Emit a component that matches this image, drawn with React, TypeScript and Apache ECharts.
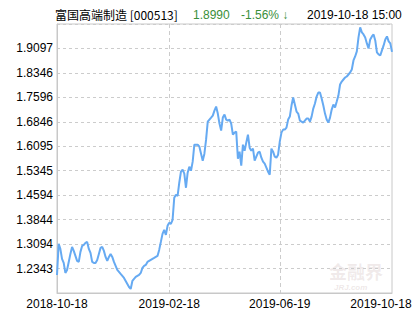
import React, { useEffect, useRef } from "react";
import * as echarts from "echarts";

const values: number[] = [
  1.2147, 1.3100, 1.2946, 1.2639, 1.2516, 1.2208, 1.2300, 1.2546, 1.2792, 1.3008,
  1.2885, 1.2731, 1.2577, 1.2546, 1.2854, 1.3038, 1.3069, 1.3131, 1.3161, 1.2946,
  1.2823, 1.2546, 1.2516, 1.2516, 1.2608, 1.2792, 1.2977, 1.3008, 1.2885, 1.2700,
  1.2577, 1.2700, 1.2792, 1.2700, 1.2546, 1.2423, 1.2300, 1.2239, 1.2177, 1.2116,
  1.2054, 1.1962, 1.1870, 1.1777, 1.1716, 1.1962, 1.2024, 1.2085, 1.2116, 1.2147,
  1.2208, 1.2362, 1.2423, 1.2454, 1.2546, 1.2577, 1.2608, 1.2639, 1.2669, 1.2700,
  1.2731, 1.2915, 1.3161, 1.3408, 1.3531, 1.3377, 1.3654, 1.3746, 1.3715, 1.3838,
  1.4515, 1.4607, 1.4576, 1.4976, 1.5314, 1.5376, 1.5253, 1.4822, 1.5284, 1.5468,
  1.5345, 1.5622, 1.6145, 1.6145, 1.6145, 1.6083, 1.5868, 1.5653, 1.5868, 1.6298,
  1.6852, 1.6914, 1.6975, 1.7037, 1.7190, 1.7313, 1.7098, 1.6790, 1.6575, 1.6975,
  1.7067, 1.6914, 1.6883, 1.6914, 1.6790, 1.6452, 1.6514, 1.6544, 1.5714, 1.5929,
  1.5499, 1.6145, 1.5960, 1.6206, 1.6452, 1.6052, 1.5960, 1.6022, 1.5653, 1.5776,
  1.5899, 1.5929, 1.5745, 1.5622, 1.5560, 1.5437, 1.5314, 1.5222, 1.6022, 1.5929,
  1.5776, 1.5745, 1.5837, 1.6237, 1.6514, 1.6606, 1.6606, 1.6667, 1.6914, 1.7006,
  1.7344, 1.7590, 1.7375, 1.7160, 1.7098, 1.6883, 1.6852, 1.6821, 1.6883, 1.6944,
  1.6944, 1.6852, 1.7006, 1.7252, 1.7406, 1.7621, 1.7744, 1.7744, 1.7559, 1.7344,
  1.7098, 1.6914, 1.6821, 1.6975, 1.7221, 1.7375, 1.7283, 1.7467, 1.7652, 1.7990,
  1.8082, 1.8144, 1.8205, 1.8236, 1.8297, 1.8359, 1.8451, 1.8728, 1.8851, 1.9005,
  1.9435, 1.9743, 1.9589, 1.9528, 1.9435, 1.9251, 1.9097, 1.9374, 1.9466, 1.9528,
  1.9343, 1.8974, 1.8913, 1.8882, 1.9036, 1.9189, 1.9374, 1.9466, 1.9312, 1.9251,
  1.8990,
];

const xTickLabels: string[] = ["2018-10-18", "2019-02-18", "2019-06-19", "2019-10-18"];
const xTickIndex: number[] = [0, 67, 133, 200];

const yTickLabels: string[] = [
  "", "1.2343", "1.3094", "1.3844", "1.4594", "1.5345",
  "1.6095", "1.6846", "1.7596", "1.8346", "1.9097", "",
];
const yMin = 1.15926;
const yStep = 0.07504;
const yMax = yMin + 11 * yStep;

const fundName = "富国高端制造 [000513]";
const latestValue = "1.8990";
const latestChange = "-1.56% ↓";
const latestTime = "2019-10-18 15:00";

export default function App() {
  const ref = useRef<HTMLDivElement>(null);
  useEffect(() => {
    if (!ref.current) return;
    const chart = echarts.init(ref.current, null, { renderer: "svg" });
    const categories = values.map((_, i) => String(i));
    const latin = "'Liberation Sans', Arial, sans-serif";
    const showAt = (i: number) => xTickIndex.indexOf(i) >= 0;
    chart.setOption({
      animation: false,
      backgroundColor: "#fff",
      grid: {
        left: 57,
        right: 23,
        top: 24,
        bottom: 37,
        show: true,
        borderColor: "#c8c8c8",
        borderWidth: 1,
      },
      graphic: [
        {
          type: "text",
          left: 55,
          top: 8,
          style: {
            text: fundName,
            fill: "#000",
            font: "12px 'Noto Sans CJK SC', sans-serif",
          },
        },
        {
          type: "text",
          left: 193,
          top: 9,
          style: { text: latestValue, fill: "#3a8f3a", font: `12px ${latin}` },
        },
        {
          type: "text",
          left: 241,
          top: 9,
          style: { text: latestChange, fill: "#3a8f3a", font: `12px ${latin}` },
        },
        {
          type: "text",
          left: 307,
          top: 9,
          style: { text: latestTime, fill: "#000", font: `12px ${latin}` },
        },
        {
          type: "text",
          left: 329,
          top: 262,
          z: 0,
          style: {
            text: "金融界",
            fill: "rgba(190,160,160,0.22)",
            font: "bold 18px 'Noto Sans CJK SC', sans-serif",
          },
        },
        {
          type: "text",
          left: 334,
          top: 283,
          z: 0,
          style: {
            text: "JRJ.com",
            fill: "rgba(190,160,160,0.25)",
            font: "italic bold 8px 'Liberation Sans', sans-serif",
          },
        },
      ],
      xAxis: {
        type: "category",
        data: categories,
        boundaryGap: false,
        axisLine: { show: true, lineStyle: { color: "#c8c8c8" } },
        axisTick: { show: false },
        axisLabel: {
          interval: (i: number) => showAt(i),
          showMinLabel: true,
          showMaxLabel: true,
          hideOverlap: false,
          color: "#000",
          fontFamily: "Liberation Sans",
          fontSize: 12,
          margin: 5,
          formatter: (_v: string, i: number) => {
            const k = xTickIndex.indexOf(i);
            if (k < 0) return "";
            return k === xTickIndex.length - 1 ? `{r|${xTickLabels[k]}}` : xTickLabels[k];
          },
          rich: {
            r: {
              padding: [0, 22, 0, 0],
              color: "#000",
              fontFamily: "Liberation Sans",
              fontSize: 12,
            },
          },
        },
        splitLine: {
          show: true,
          interval: (i: number) => i !== 0 && i !== values.length - 1 && showAt(i),
          lineStyle: { color: "#cccccc", type: [4, 3], width: 1 },
        },
      },
      yAxis: {
        type: "value",
        min: yMin,
        max: yMax,
        interval: yStep,
        axisLine: { show: true, lineStyle: { color: "#c8c8c8" } },
        axisTick: { show: false },
        axisLabel: {
          color: "#000",
          fontFamily: "Liberation Sans",
          fontSize: 12,
          margin: 4,
          formatter: (v: number) => yTickLabels[Math.round((v - yMin) / yStep)] ?? "",
        },
        splitLine: {
          show: true,
          lineStyle: { color: "#cccccc", type: [3, 3], width: 1 },
        },
      },
      series: [
        {
          type: "line",
          data: values,
          showSymbol: false,
          symbol: "none",
          lineStyle: { color: "#66aaf2", width: 2 },
          z: 3,
        },
      ],
    });
    return () => chart.dispose();
  }, []);
  return (
    <div
      ref={ref}
      style={{ position: "fixed", left: 0, top: 0, width: 415, height: 330 }}
    />
  );
}
